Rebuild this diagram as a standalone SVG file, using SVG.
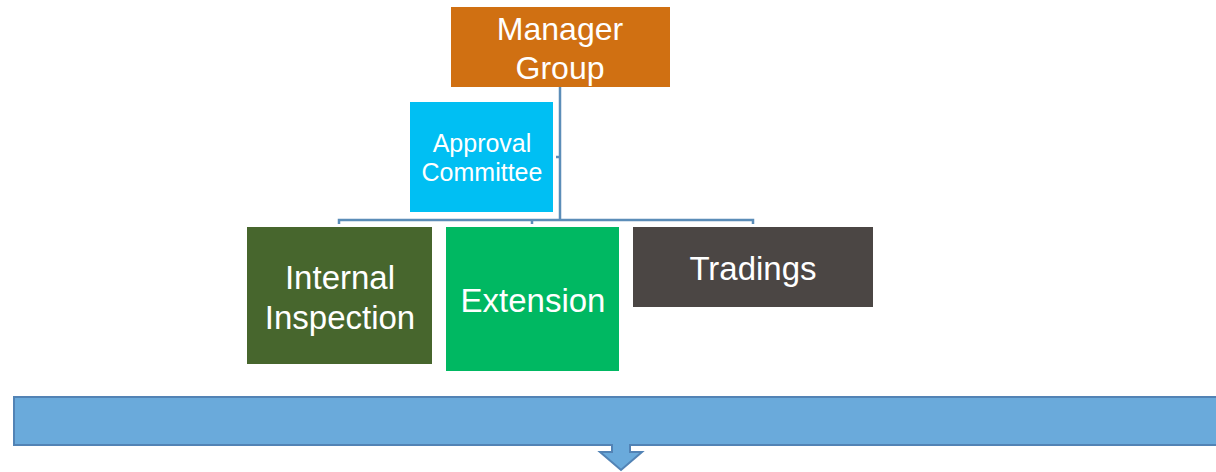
<svg xmlns="http://www.w3.org/2000/svg" width="1216" height="472" viewBox="0 0 1216 472">
<style>
.lbl{font-family:"Liberation Sans",Arial,sans-serif;fill:#ffffff;text-anchor:middle}
.conn{fill:none;stroke:#5B8DB8;stroke-width:2.5}
</style>
<rect width="1216" height="472" fill="#ffffff"/>
<g id="connectors">
<path class="conn" d="M560,87 V220 M339,224 V220 H753 V224 M532,220 V224 M556,157 H560"/>
</g>
<g id="manager-group">
<rect x="451" y="7" width="219" height="80" fill="#D07012"/>
<text class="lbl" x="560" y="40" font-size="32">Manager</text>
<text class="lbl" x="560" y="79" font-size="32">Group</text>
</g>
<g id="approval-committee">
<rect x="410" y="102" width="143" height="110" fill="#00BFF3"/>
<text class="lbl" x="482" y="152" font-size="25">Approval</text>
<text class="lbl" x="482" y="181" font-size="25">Committee</text>
</g>
<g id="internal-inspection">
<rect x="247" y="227" width="185" height="137" fill="#47662D"/>
<text class="lbl" x="340" y="289" font-size="33">Internal</text>
<text class="lbl" x="340" y="329" font-size="33">Inspection</text>
</g>
<g id="extension">
<rect x="446" y="227" width="173" height="144" fill="#00B862"/>
<text class="lbl" x="533" y="312" font-size="33">Extension</text>
</g>
<g id="tradings">
<rect x="633" y="227" width="240" height="80" fill="#4B4644"/>
<text class="lbl" x="753" y="280" font-size="33">Tradings</text>
</g>
<g id="callout">
<path d="M14,397 H1222 V445 H630 V452 H642 L621,470 L600,452 H612 V445 H14 Z" fill="#6AAADB" stroke="#5283B5" stroke-width="2"/>
</g>
</svg>
